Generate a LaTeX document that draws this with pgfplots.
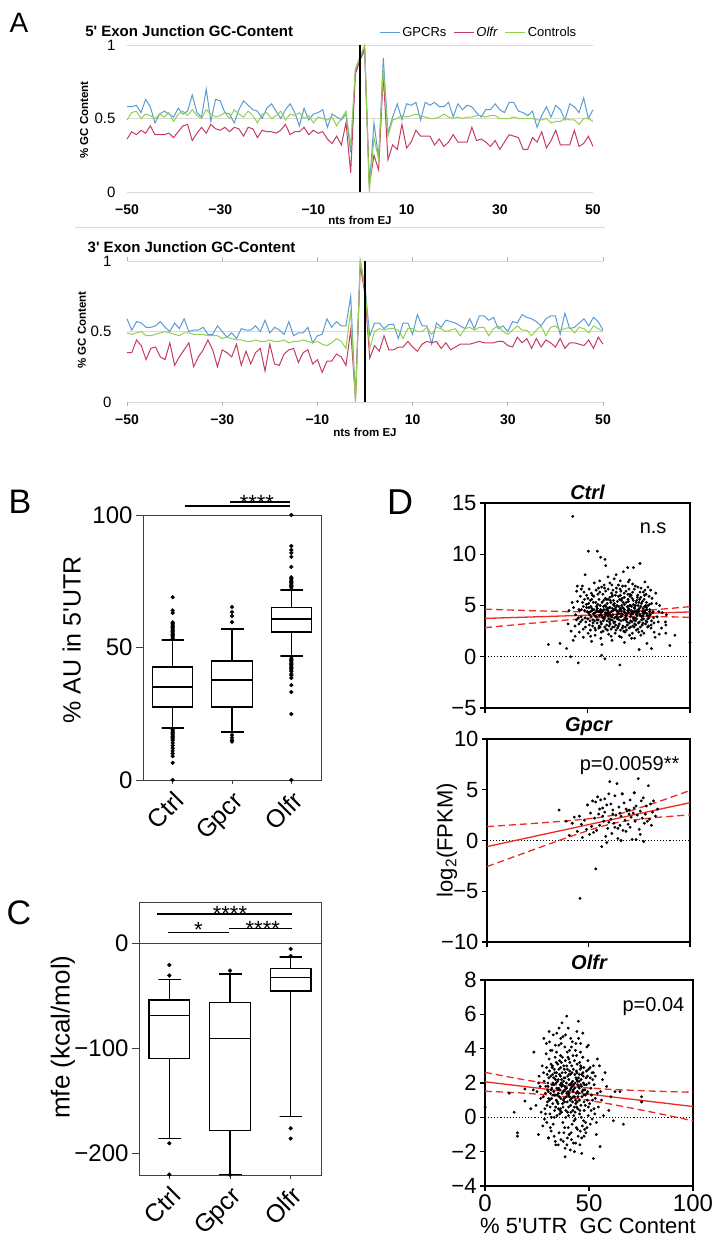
\documentclass[border=0pt]{standalone}
\usepackage{fontspec}
\setmainfont{Liberation Sans}
\usepackage{pgfplots}
\pgfplotsset{compat=1.18}
\usepackage{pgfplotstable}
\newcommand{\fs}[1]{\fontsize{#1bp}{#1bp}\selectfont}
\definecolor{gblue}{HTML}{5B9BD5}
\definecolor{ored}{HTML}{C33E5E}
\definecolor{cgreen}{HTML}{92D050}
\definecolor{dred}{HTML}{EE2A24}

\pgfplotstableread{
x b g r
-50 0.58 0.49 0.36
-49 0.58 0.54 0.41
-48 0.59 0.55 0.39
-47 0.54 0.50 0.42
-46 0.63 0.53 0.40
-45 0.58 0.52 0.45
-44 0.47 0.50 0.39
-43 0.53 0.53 0.39
-42 0.55 0.51 0.39
-41 0.53 0.54 0.40
-40 0.51 0.48 0.37
-39 0.57 0.53 0.41
-38 0.53 0.55 0.45
-37 0.55 0.52 0.46
-36 0.66 0.56 0.35
-35 0.54 0.52 0.40
-34 0.51 0.50 0.44
-33 0.70 0.56 0.40
-32 0.48 0.53 0.46
-31 0.63 0.51 0.43
-30 0.62 0.52 0.42
-29 0.54 0.54 0.44
-28 0.53 0.50 0.41
-27 0.47 0.56 0.44
-26 0.56 0.53 0.43
-25 0.62 0.51 0.38
-24 0.59 0.55 0.44
-23 0.56 0.52 0.43
-22 0.55 0.47 0.37
-21 0.50 0.53 0.42
-20 0.57 0.54 0.41
-19 0.60 0.50 0.41
-18 0.55 0.52 0.40
-17 0.50 0.55 0.42
-16 0.56 0.49 0.46
-15 0.60 0.53 0.39
-14 0.54 0.52 0.41
-13 0.45 0.54 0.41
-12 0.57 0.50 0.44
-11 0.49 0.52 0.39
-10 0.53 0.47 0.42
-9 0.54 0.51 0.40
-8 0.56 0.50 0.41
-7 0.44 0.49 0.36
-6 0.53 0.51 0.33
-5 0.51 0.45 0.38
-4 0.49 0.50 0.32
-3 0.53 0.55 0.47
-2 0.27 0.31 0.13
-1 0.82 0.84 0.80
0 0.90 0.92 0.90
1 0.96 1.00 0.98
2 0.03 0.00 0.05
3 0.47 0.37 0.25
4 0.23 0.22 0.15
5 0.91 0.85 0.80
6 0.40 0.38 0.22
7 0.51 0.49 0.32
8 0.60 0.50 0.29
9 0.49 0.52 0.46
10 0.60 0.51 0.30
11 0.59 0.52 0.34
12 0.61 0.53 0.42
13 0.49 0.52 0.38
14 0.61 0.51 0.38
15 0.59 0.50 0.38
16 0.61 0.50 0.32
17 0.58 0.51 0.36
18 0.58 0.53 0.31
19 0.61 0.51 0.34
20 0.51 0.50 0.39
21 0.60 0.51 0.34
22 0.56 0.50 0.34
23 0.59 0.51 0.34
24 0.58 0.51 0.44
25 0.54 0.52 0.35
26 0.51 0.52 0.36
27 0.56 0.51 0.34
28 0.56 0.52 0.31
29 0.60 0.52 0.35
30 0.56 0.50 0.29
31 0.54 0.50 0.34
32 0.61 0.50 0.39
33 0.61 0.51 0.38
34 0.55 0.50 0.37
35 0.54 0.50 0.29
36 0.52 0.50 0.29
37 0.55 0.50 0.37
38 0.44 0.49 0.34
39 0.52 0.49 0.41
40 0.58 0.50 0.30
41 0.51 0.47 0.35
42 0.59 0.48 0.42
43 0.56 0.48 0.32
44 0.49 0.50 0.32
45 0.60 0.49 0.32
46 0.58 0.49 0.42
47 0.54 0.46 0.31
48 0.64 0.50 0.33
49 0.50 0.50 0.38
50 0.56 0.48 0.31
}\Afive

\pgfplotstableread{
x b g r
-50 0.59 0.49 0.35
-49 0.51 0.48 0.35
-48 0.57 0.49 0.44
-47 0.56 0.50 0.40
-46 0.53 0.47 0.30
-45 0.53 0.47 0.38
-44 0.54 0.48 0.39
-43 0.57 0.49 0.32
-42 0.53 0.50 0.30
-41 0.50 0.49 0.42
-40 0.56 0.48 0.26
-39 0.52 0.47 0.32
-38 0.59 0.49 0.37
-37 0.50 0.49 0.42
-36 0.51 0.48 0.25
-35 0.51 0.48 0.32
-34 0.53 0.48 0.37
-33 0.48 0.47 0.44
-32 0.48 0.47 0.37
-31 0.54 0.47 0.25
-30 0.50 0.45 0.37
-29 0.46 0.46 0.35
-28 0.49 0.45 0.32
-27 0.45 0.44 0.41
-26 0.52 0.44 0.26
-25 0.51 0.43 0.36
-24 0.51 0.43 0.27
-23 0.54 0.44 0.35
-22 0.50 0.43 0.38
-21 0.58 0.43 0.22
-20 0.49 0.44 0.41
-19 0.53 0.43 0.27
-18 0.51 0.43 0.26
-17 0.48 0.44 0.34
-16 0.57 0.42 0.37
-15 0.47 0.43 0.38
-14 0.49 0.43 0.28
-13 0.49 0.44 0.35
-12 0.53 0.43 0.37
-11 0.42 0.42 0.27
-10 0.47 0.43 0.30
-9 0.48 0.41 0.21
-8 0.59 0.40 0.29
-7 0.53 0.42 0.29
-6 0.57 0.45 0.34
-5 0.54 0.43 0.32
-4 0.54 0.38 0.26
-3 0.75 0.65 0.51
-2 0.02 0.00 0.02
-1 1.00 1.00 0.97
0 0.82 0.80 0.76
1 0.47 0.38 0.31
2 0.56 0.50 0.40
3 0.56 0.52 0.36
4 0.52 0.51 0.47
5 0.55 0.52 0.37
6 0.55 0.52 0.37
7 0.45 0.51 0.39
8 0.56 0.45 0.39
9 0.56 0.52 0.43
10 0.48 0.52 0.39
11 0.62 0.50 0.36
12 0.54 0.50 0.41
13 0.54 0.53 0.43
14 0.41 0.48 0.42
15 0.56 0.53 0.43
16 0.53 0.52 0.38
17 0.58 0.50 0.42
18 0.57 0.51 0.37
19 0.56 0.52 0.39
20 0.54 0.47 0.41
21 0.52 0.52 0.41
22 0.59 0.53 0.41
23 0.52 0.51 0.42
24 0.61 0.53 0.43
25 0.61 0.53 0.42
26 0.58 0.47 0.42
27 0.60 0.52 0.42
28 0.52 0.54 0.43
29 0.54 0.50 0.43
30 0.50 0.48 0.40
31 0.57 0.51 0.39
32 0.56 0.54 0.46
33 0.62 0.51 0.42
34 0.60 0.51 0.45
35 0.59 0.47 0.38
36 0.57 0.51 0.45
37 0.54 0.54 0.39
38 0.59 0.47 0.44
39 0.61 0.53 0.42
40 0.61 0.54 0.39
41 0.48 0.51 0.45
42 0.63 0.52 0.38
43 0.52 0.53 0.42
44 0.53 0.49 0.42
45 0.56 0.53 0.41
46 0.59 0.52 0.40
47 0.54 0.49 0.44
48 0.60 0.54 0.38
49 0.57 0.52 0.46
50 0.51 0.50 0.41
}\Athree

\pgfplotstableread{
x y
44.2 4.1
45.8 3.2
46.5 5.9
47.1 4.6
47.9 2.7
48.3 6.3
48.8 3.8
49.4 5.1
49.9 4.4
50.3 2.3
50.8 6.6
51.2 3.5
51.6 4.9
52.1 5.6
52.5 3.0
52.9 4.2
53.3 7.2
53.7 2.1
54.0 5.3
54.4 3.9
54.8 4.7
55.1 6.1
55.5 2.8
55.8 4.0
56.2 5.0
56.5 3.4
56.9 6.8
57.2 4.5
57.6 2.5
57.9 5.5
58.2 3.7
58.6 4.3
58.9 6.4
59.3 3.1
59.6 5.2
59.9 4.0
60.3 2.2
60.6 4.8
60.9 5.8
61.3 3.6
61.6 4.4
61.9 7.0
62.3 2.9
62.6 5.1
62.9 3.3
63.3 4.6
63.6 6.0
63.9 2.6
64.3 4.1
64.6 5.4
64.9 3.8
65.3 4.9
65.6 2.0
65.9 6.6
66.3 3.5
66.6 4.2
66.9 5.7
67.3 3.0
67.6 4.7
67.9 6.2
68.3 2.4
68.6 4.0
68.9 5.3
69.3 3.4
69.6 4.5
69.9 7.3
70.3 2.8
70.6 5.0
70.9 3.9
71.3 6.0
71.6 4.3
71.9 2.3
72.3 5.5
72.6 3.6
72.9 4.8
73.3 6.9
73.6 3.1
73.9 4.1
74.3 5.8
74.6 2.7
74.9 4.6
75.3 3.4
75.6 6.3
75.9 4.0
76.3 5.2
76.6 2.5
76.9 4.4
77.3 3.7
77.6 5.6
77.9 4.9
78.3 3.2
78.6 6.1
78.9 4.2
79.3 2.9
79.6 5.0
80.0 3.8
80.4 4.6
80.8 6.5
81.2 3.5
81.7 4.3
45.1 5.4
46.0 2.4
46.9 3.9
47.5 6.9
48.0 4.9
49.0 2.9
49.6 6.0
50.1 3.7
50.6 5.2
51.0 4.1
51.4 2.6
51.9 6.2
52.3 4.5
52.7 3.3
53.1 5.9
53.5 4.0
53.9 2.6
54.2 6.5
54.6 3.6
55.0 5.1
55.3 4.4
55.7 3.0
56.0 6.3
56.4 4.6
56.7 2.4
57.1 5.3
57.4 3.8
57.8 4.9
58.1 7.0
58.4 2.9
58.8 4.1
59.1 5.6
59.5 3.5
59.8 4.7
60.1 6.6
60.5 3.0
60.8 4.2
61.1 5.5
61.5 2.7
61.8 3.9
62.1 6.0
62.5 4.5
62.8 3.4
63.1 5.2
63.5 2.3
63.8 4.8
64.1 6.7
64.5 3.7
64.8 4.3
65.1 5.9
65.5 3.2
65.8 4.6
66.1 2.6
66.5 5.5
66.8 4.0
67.1 6.9
67.5 3.6
67.8 4.4
68.1 5.1
68.5 2.9
68.8 6.4
69.1 4.2
69.5 3.1
69.8 5.6
70.1 4.7
70.5 2.1
70.8 6.1
71.1 3.5
71.5 4.9
71.8 5.7
72.1 3.0
72.5 4.4
72.8 6.6
73.1 3.8
73.5 5.0
73.8 2.6
74.1 4.5
74.5 6.0
74.8 3.3
75.1 5.3
75.5 4.1
75.8 2.9
76.1 6.7
76.5 3.9
76.8 5.4
77.1 4.7
77.5 2.3
77.8 6.0
78.1 4.5
78.5 3.5
78.8 5.3
79.1 4.0
79.5 6.8
79.8 3.0
80.2 5.1
80.6 4.1
81.0 2.8
81.5 5.7
82.0 4.4
82.4 3.3
56.3 4.1
57.3 4.4
58.3 3.9
59.2 4.6
60.2 4.3
61.2 4.0
62.2 4.7
63.2 3.8
64.2 4.5
65.2 4.2
66.2 3.9
67.2 4.8
68.2 4.3
69.2 3.7
70.2 4.6
71.2 4.1
72.2 3.8
73.2 4.4
74.2 4.0
75.2 4.7
60.7 3.4
62.7 5.5
64.7 2.8
66.7 5.0
68.7 3.6
70.7 5.9
72.7 2.9
74.7 5.0
58.7 5.7
56.8 3.2
59.7 2.6
61.7 6.2
63.7 3.1
65.7 5.6
67.7 2.5
69.7 6.1
71.7 3.4
73.7 5.3
76.7 3.1
78.7 4.8
55.2 3.6
54.5 4.5
53.4 3.5
52.2 4.7
51.3 5.5
50.4 4.3
49.2 3.4
48.5 5.6
47.4 3.6
46.2 4.5
45.5 3.8
44.7 6.4
43.9 3.0
43.2 4.8
42.5 5.3
84.0 3.9
85.2 5.0
86.1 2.8
83.3 6.2
84.8 4.4
42.8 13.7
50.4 10.3
54.8 10.3
56.4 9.7
58.5 9.5
58.9 8.9
69.6 8.7
72.4 8.7
75.6 9.1
48.8 8.0
30.9 1.2
36.6 1.3
39.8 0.8
35.4 -0.5
45.5 -0.6
41.8 0.0
56.9 0.15
58.5 -0.2
65.8 -0.8
75.2 0.7
81.2 0.8
90.2 1.1
100 1.4
92.6 2.1
88.2 2.3
88.2 3.1
88.5 4.1
88.0 3.4
63.0 7.6
66.0 7.4
60.0 7.8
70.5 7.5
78.0 7.3
45.0 6.9
47.0 6.6
44.0 2.0
43.0 1.6
42.0 2.5
40.5 3.2
41.0 4.5
52.0 1.5
57.0 1.2
62.0 1.6
68.0 1.4
73.0 1.8
79.0 1.3
83.0 1.9
85.0 2.2
64.0 8.0
67.5 8.3
50.7 4.8
51.8 3.9
52.8 5.3
53.8 4.3
54.7 3.3
55.6 5.6
56.6 4.3
57.7 3.5
58.6 5.0
59.4 4.2
60.4 3.7
61.4 5.3
62.4 4.1
63.4 3.4
64.4 5.0
65.4 3.6
66.4 4.5
67.4 5.3
68.4 3.8
69.4 4.9
70.4 3.3
71.4 4.5
72.4 5.1
73.4 3.5
74.4 4.3
75.4 5.6
76.4 3.6
77.4 4.2
78.4 5.0
79.4 3.7
80.3 4.4
81.3 5.2
82.2 3.8
50.9 3.1
52.4 6.0
53.6 2.8
55.4 6.7
56.1 2.9
57.5 6.1
59.0 2.7
60.0 5.6
61.0 3.2
62.0 5.9
63.0 2.9
64.0 6.3
65.0 3.0
66.0 6.0
67.0 2.8
68.0 5.8
69.0 2.6
70.0 5.4
71.0 2.9
72.0 6.3
73.0 3.2
74.0 5.5
75.0 2.4
76.0 5.8
77.0 3.3
78.0 6.5
79.0 3.4
80.0 5.9
81.0 3.1
54.3 4.9
55.9 4.4
57.0 4.0
58.0 4.6
59.0 4.9
60.0 4.5
61.0 4.8
62.0 3.6
63.0 5.0
64.0 3.9
65.0 4.4
66.0 4.7
67.0 4.1
68.0 4.6
69.0 4.0
70.0 4.3
71.0 5.0
72.0 4.2
73.0 4.7
74.0 3.7
75.0 4.4
76.0 4.9
77.0 4.0
78.0 4.3
79.0 4.6
80.0 4.0
48.6 4.5
47.6 5.3
46.6 3.4
49.6 4.8
50.2 5.7
51.5 4.4
52.6 3.6
53.2 4.6
58.3 6.7
62.4 6.5
66.3 6.4
70.2 6.6
74.6 6.8
77.2 6.3
60.9 7.2
65.1 7.0
56.0 7.4
72.0 7.1
68.5 6.9
76.0 2.1
71.5 1.8
66.5 1.9
61.5 2.0
56.5 1.8
51.5 2.0
48.0 1.9
82.5 2.4
84.5 3.4
86.5 4.3
83.6 5.2
45.8 4.6
44.6 3.6
}\DCtrl

\pgfplotstableread{
x y
35.5 3.0
39.0 1.9
40.5 0.5
42.0 1.7
43.0 2.3
44.5 0.9
45.5 2.4
46.5 1.6
47.0 0.3
48.0 2.0
49.0 1.1
49.5 3.5
50.5 0.6
51.0 2.7
51.5 1.4
52.0 3.9
52.5 0.8
53.0 2.2
53.5 3.8
54.0 1.0
54.5 4.3
55.0 2.6
55.5 1.5
56.0 4.0
56.5 -0.6
57.0 3.2
57.5 1.9
58.0 2.8
58.5 0.4
59.0 3.5
59.5 1.2
60.0 4.6
60.5 5.8
61.0 2.1
61.5 0.7
62.0 3.0
62.5 1.7
63.0 4.4
63.5 2.5
64.0 5.6
64.5 0.2
65.0 3.3
65.5 1.5
66.0 2.4
66.5 4.6
67.0 1.0
67.5 3.7
68.0 2.0
68.5 0.9
69.0 2.9
69.5 1.6
70.0 3.0
70.5 4.0
71.0 2.3
71.5 0.1
72.0 2.7
72.5 4.7
73.0 1.9
73.5 3.4
74.0 2.5
74.5 6.1
75.0 1.1
75.5 2.9
76.0 3.9
76.5 2.2
77.0 4.2
77.5 1.7
78.0 2.6
78.5 3.4
79.0 1.9
79.5 5.4
80.0 2.1
80.5 3.6
81.0 1.5
81.5 2.8
82.0 3.9
83.0 2.4
84.0 3.1
77.2 -0.1
73.5 0.1
66.0 0.0
59.0 -0.2
45.8 -5.7
53.6 -2.8
64.5 1.2
62.0 2.6
68.5 3.1
70.5 1.3
72.5 3.2
75.5 0.6
57.0 2.4
55.5 3.1
60.0 1.8
63.0 1.3
66.7 4.6
72.6 4.7
58.0 4.1
61.0 3.6
65.5 2.7
70.0 2.6
}\DGpcr

\pgfplotstableread{
x y
28.0 1.2
28.4 2.1
28.8 0.5
29.2 1.8
29.6 2.9
30.0 0.9
30.4 1.5
30.8 3.4
31.2 0.2
31.6 2.4
32.0 1.1
32.4 3.0
32.8 -0.4
33.2 1.9
33.6 2.6
34.0 0.6
34.4 3.8
34.8 1.3
35.2 2.2
35.6 -0.9
36.0 1.6
36.4 2.9
36.8 0.3
37.2 3.5
37.6 1.0
38.0 2.3
38.4 4.1
38.8 0.0
39.2 1.7
39.6 2.8
40.0 -0.6
40.4 1.4
40.8 3.2
41.2 0.7
41.6 2.0
42.0 4.4
42.4 1.2
42.8 -0.2
43.2 2.5
43.6 0.8
44.0 3.6
44.4 1.5
44.8 -1.1
45.2 2.1
45.6 0.4
46.0 3.0
46.4 1.8
46.8 -0.5
47.2 2.4
47.6 0.9
48.0 1.6
48.4 -0.3
48.8 2.7
49.2 1.0
49.6 0.1
50.0 2.0
50.6 -0.4
51.2 1.3
51.8 2.2
52.4 0.5
28.2 2.6
28.6 -0.1
29.0 1.4
29.4 3.7
29.8 0.7
30.2 2.0
30.6 1.1
31.0 2.7
31.4 -0.6
31.8 1.6
32.2 3.9
32.6 0.8
33.0 2.3
33.4 1.3
33.8 -1.4
34.2 2.0
34.6 0.1
35.0 3.1
35.4 1.7
35.8 2.5
36.2 0.5
36.6 4.3
37.0 1.4
37.4 -0.3
37.8 2.1
38.2 0.9
38.6 3.3
39.0 1.2
39.4 -1.6
39.8 2.4
40.2 0.6
40.6 3.9
41.0 1.6
41.4 -0.9
41.8 2.6
42.2 0.4
42.6 1.9
43.0 3.3
43.4 -0.1
43.8 1.4
44.2 2.6
44.6 0.5
45.0 4.6
45.4 1.0
45.8 -0.8
46.2 2.2
46.6 1.2
47.0 3.5
47.4 -0.2
47.8 1.9
48.2 0.7
48.6 2.3
49.0 -0.6
49.4 1.5
49.8 2.8
50.3 0.8
50.9 1.7
51.5 -0.1
52.1 2.6
53.0 1.1
33.1 1.5
34.1 2.4
35.1 0.8
36.1 1.9
37.1 2.6
38.1 1.1
39.1 2.0
40.1 1.3
41.1 2.5
42.1 0.9
43.1 1.7
44.1 2.2
45.1 1.4
46.1 0.7
47.1 1.6
33.5 0.4
34.5 1.7
35.5 2.8
36.5 1.1
37.5 0.6
38.5 2.3
39.5 0.9
40.5 1.9
41.5 1.1
42.5 2.8
43.5 1.0
44.5 1.9
45.5 0.2
46.5 2.5
47.5 1.3
32.3 1.9
33.3 2.8
34.3 1.0
35.3 1.4
36.3 2.4
37.3 0.8
38.3 1.6
39.3 3.0
40.3 2.2
41.3 0.3
42.3 1.5
43.3 2.0
44.3 0.9
45.3 1.7
46.3 2.9
31.5 1.4
32.5 2.5
36.9 1.8
40.9 1.0
44.9 2.3
37.9 3.0
38.9 0.4
39.9 1.5
40.7 2.7
41.9 1.8
42.9 0.6
43.9 2.7
34.9 2.1
35.9 0.2
36.7 3.2
26.5 1.8
27.0 0.3
27.5 3.0
26.0 2.4
25.0 1.5
24.5 0.7
27.8 -0.5
29.5 4.3
30.5 -1.2
31.5 3.9
32.8 4.8
34.0 -1.6
35.5 4.2
36.5 -1.3
37.5 4.7
38.5 -1.8
39.5 3.8
40.5 -1.0
41.5 4.1
42.5 -1.5
43.5 3.9
44.5 -0.7
45.5 3.2
46.5 -1.2
47.5 2.9
48.5 -0.9
49.5 3.3
50.5 2.9
51.5 2.6
52.5 1.9
53.5 -0.3
54.0 1.4
54.5 0.6
55.5 1.5
56.0 1.0
53.0 2.4
51.0 0.4
49.0 4.1
47.0 4.9
46.0 4.3
39.3 5.9
44.9 5.6
35.6 5.2
30.8 5.0
28.3 4.6
23.5 3.8
49.7 4.2
52.1 3.0
57.7 2.6
58.5 1.8
64.9 1.5
75.3 1.2
75.3 0.9
66.5 -0.4
61.7 -0.2
52.1 -2.4
55.3 -1.7
38.5 -2.3
46.5 -2.1
30.5 -1.2
25.7 -1.0
15.6 -0.9
15.6 -1.1
14.0 0.3
11.6 1.4
0.1 0.6
19.2 0.95
19.2 1.65
23.2 1.6
22.0 0.5
56.5 2.2
57.0 0.1
59.5 0.4
60.5 1.2
62.5 1.5
55.0 3.0
54.0 3.4
53.5 -1.0
43.0 -2.0
41.0 -1.9
30.3 1.8
31.3 0.6
32.3 2.9
33.3 0.0
34.3 3.2
35.3 0.5
36.3 3.6
37.3 1.9
38.3 -0.6
39.3 1.4
40.3 3.4
41.3 1.7
42.3 3.6
43.3 0.3
44.3 3.1
45.3 2.5
46.3 0.0
47.3 2.0
48.3 1.3
49.3 2.4
30.7 2.3
31.7 3.1
32.7 1.3
33.7 3.5
34.7 0.9
35.7 1.2
36.7 2.0
37.7 1.5
38.7 2.6
39.7 0.3
40.7 1.2
41.7 3.0
42.7 0.1
43.7 2.3
44.7 1.2
45.7 2.8
46.7 1.5
47.7 0.4
48.7 1.9
49.7 0.6
29.1 0.2
29.9 2.5
31.9 0.0
33.9 2.2
35.9 3.3
37.9 -0.9
39.9 3.5
41.9 -0.4
43.9 -0.6
45.9 3.8
47.9 -0.7
31.1 1.0
32.1 1.7
34.1 1.3
36.1 0.4
38.1 2.8
40.1 0.1
42.1 2.1
44.1 0.6
46.1 1.9
33.8 4.2
36.4 4.6
38.7 4.8
41.2 4.6
43.7 4.3
44.2 5.0
40.0 5.2
37.0 5.5
34.5 4.9
31.0 4.4
35.2 -1.6
37.6 -1.4
39.6 -1.2
41.6 -1.3
43.6 -1.5
45.6 -1.6
47.6 -1.1
33.2 -1.1
31.8 -0.8
29.7 -0.3
36.8 2.2
38.4 1.8
40.4 2.5
42.4 1.6
44.4 2.1
34.4 2.6
32.6 2.0
30.1 1.6
35.1 1.6
39.1 1.7
41.1 1.9
43.1 1.2
45.1 1.8
47.1 2.6
49.1 1.4
50.6 2.3
51.7 1.0
52.8 0.2
26.8 1.1
25.8 2.0
}\DOlfr

\pgfplotsset{
  every axis title shift=0pt,
  Astyle/.style={scale only axis, anchor=south west, xmin=-50, xmax=50, ymin=0, ymax=1,
    axis line style={draw=none}, ymajorgrids, grid style={black!15, line width=0.8bp},
    xtick={-50,-30,-10,10,30,50}, xticklabels={−50,−30,−10,10,30,50},
    ytick={0,0.5,1}, yticklabels={0,0.5,1},
    xticklabel style={font=\bfseries\fs{14}}, yticklabel style={font=\fs{15}, xshift=-8bp},
    ylabel={\% GC Content}, ylabel style={font=\bfseries\fs{11.5}, anchor=center},
    xlabel={nts from EJ}, xlabel style={font=\bfseries\fs{11.5}, anchor=center},
    title style={font=\bfseries\fs{15}, anchor=west, yshift=0bp},
    ytick style={draw=none}, clip=false},
  Bstyle/.style={scale only axis, anchor=south west, xmin=-0.5, xmax=2.5, xtick={0,1,2},
    xticklabels={Ctrl,Gpcr,Olfr},
    xticklabel style={rotate=45, anchor=north east, font=\fs{25}, inner sep=2bp},
    yticklabel style={font=\fs{24}},
    axis line style={black!75, line width=0.9bp}, tick style={black!75, line width=0.9bp},
    tick align=outside, tick pos=left, major tick length=7bp,
    xtick style={/pgfplots/major tick length=4bp}, clip=false},
  Dstyle/.style={scale only axis, anchor=south west, xmin=0, xmax=100, xtick={0,50,100},
    axis line style={black, line width=1.2bp}, tick style={black, line width=1.2bp},
    tick align=outside, tick pos=left, major tick length=5bp,
    yticklabel style={font=\fs{22}}, xticklabel style={font=\fs{24}},
    title style={font=\bfseries\itshape\fs{20}}},
  bx/.style={black, line width=1.3bp, solid, line cap=rect, line join=miter},
  outl/.style={only marks, mark=*, mark size=1.9bp, black},
  sig/.style={black, line width=1.2bp},
  dot/.style={only marks, mark=*, mark size=1.25bp, black},
  fitl/.style={dred, line width=1.3bp},
  ci/.style={dred, line width=1.3bp, dash pattern=on 7bp off 4bp},
}

\begin{document}
\begin{tikzpicture}
\path[use as bounding box] (0bp,0bp) rectangle (713bp,-1240bp);

% ---------- Panel A, top
\begin{axis}[Astyle, at={(127bp,-192bp)}, width=466bp, height=147bp,
  title={5\textquotesingle\ Exon Junction GC-Content},
  title style={at={(axis description cs:-0.097,1.095)}},
  ylabel style={at={(axis description cs:-0.092,0.49)}},
  xlabel style={at={(axis description cs:0.5,-0.19)}},
  xticklabel style={yshift=-9bp}, major tick length=0bp,
  legend style={at={(0.975,1.082)}, anchor=east, draw=none, fill=none, legend columns=3,
    font=\fs{13}, /tikz/every even column/.append style={column sep=5bp}},
  legend image code/.code={\draw[#1] (0bp,0bp) -- (20bp,0bp);}]
\addplot[gblue, line width=1bp] table[x=x,y=b] {\Afive}; \addlegendentry{GPCRs}
\addplot[ored, line width=1bp] table[x=x,y=r] {\Afive}; \addlegendentry{\textit{Olfr}}
\addplot[cgreen, line width=1bp] table[x=x,y=g] {\Afive}; \addlegendentry{Controls}
\addplot[black, line width=2bp] coordinates {(0,0) (0,1)};
\end{axis}

\draw[black!15, line width=0.8bp] (75bp,-227bp) -- (605bp,-227bp);

% ---------- Panel A, bottom
\begin{axis}[Astyle, at={(127bp,-402bp)}, width=476bp, height=141bp,
  title={3\textquotesingle\ Exon Junction GC-Content},
  title style={at={(axis description cs:-0.09,1.1)}},
  ylabel style={at={(axis description cs:-0.0945,0.51)}},
  xlabel style={at={(axis description cs:0.5,-0.213)}},
  xtick style={draw=black!30, line width=0.8bp}, major tick length=4bp, tick align=outside,
  xticklabel style={yshift=-5bp}]
\addplot[gblue, line width=1bp] table[x=x,y=b] {\Athree};
\addplot[ored, line width=1bp] table[x=x,y=r] {\Athree};
\addplot[cgreen, line width=1bp] table[x=x,y=g] {\Athree};
\addplot[black, line width=2bp] coordinates {(0,0) (0,1)};
\end{axis}

% ---------- Panel B
\begin{axis}[Bstyle, at={(143bp,-780bp)}, width=178bp, height=265bp,
  ymin=0, ymax=100, ytick={0,50,100}, yticklabels={0,50,100},
  ylabel={\% AU in 5\textquotesingle UTR},
  ylabel style={at={(axis description cs:-0.40,0.528)}, anchor=center, font=\fs{25}}]
% Ctrl: lw 19.6, q1 27.5, med 35.1, q3 42.6, uw 52.8
\addplot[bx] coordinates {(-0.34,27.5) (0.34,27.5) (0.34,42.6) (-0.34,42.6) (-0.34,27.5)};
\addplot[bx] coordinates {(-0.34,35.1) (0.34,35.1)};
\addplot[bx] coordinates {(0,42.6) (0,52.8) (-0.185,52.8) (0.185,52.8)};
\addplot[bx] coordinates {(0,27.5) (0,19.6) (-0.185,19.6) (0.185,19.6)};
% Gpcr: lw 18.1, q1 27.5, med 37.7, q3 44.9, uw 57.0
\addplot[bx] coordinates {(0.66,27.5) (1.34,27.5) (1.34,44.9) (0.66,44.9) (0.66,27.5)};
\addplot[bx] coordinates {(0.66,37.7) (1.34,37.7)};
\addplot[bx] coordinates {(1,44.9) (1,57.0) (0.815,57.0) (1.185,57.0)};
\addplot[bx] coordinates {(1,27.5) (1,18.1) (0.815,18.1) (1.185,18.1)};
% Olfr: lw 46.8, q1 55.8, med 60.8, q3 65.0, uw 71.7
\addplot[bx] coordinates {(1.66,55.8) (2.34,55.8) (2.34,65.0) (1.66,65.0) (1.66,55.8)};
\addplot[bx] coordinates {(1.66,60.8) (2.34,60.8)};
\addplot[bx] coordinates {(2,65.0) (2,71.7) (1.815,71.7) (2.185,71.7)};
\addplot[bx] coordinates {(2,55.8) (2,46.8) (1.815,46.8) (2.185,46.8)};
\addplot[outl] coordinates {(0,53.5) (0,54) (0,54.5) (0,55) (0,55.5) (0,56) (0,56.5) (0,57)
  (0,57.5) (0,58) (0,58.5) (0,59) (0,59.5) (0,63) (0,64) (0,69)
  (0,19) (0,18.5) (0,18) (0,17.5) (0,17) (0,16.5) (0,16) (0,15.5) (0,15) (0,14) (0,13)
  (0,12) (0,11) (0,10) (0,9) (0,6.5) (0,0)};
\addplot[outl] coordinates {(1,59.6) (1,61.9) (1,63.4) (1,65.3) (1,17) (1,16) (1,15) (1,14.5)};
\addplot[outl] coordinates {(2,72.5) (2,73) (2,73.5) (2,74) (2,74.5) (2,75) (2,75.5) (2,76)
  (2,76.5) (2,80.4) (2,84.2) (2,85.7) (2,86.8) (2,88.3) (2,100)
  (2,46) (2,45.5) (2,45) (2,44.5) (2,44) (2,43.5) (2,43) (2,42.5) (2,42) (2,41.5) (2,41)
  (2,40) (2,39.5) (2,38.5) (2,35.8) (2,33.2) (2,24.9) (2,0)};
\addplot[sig] coordinates {(0.2,103.4) (1.97,103.4)};
\addplot[sig] coordinates {(0.97,104.9) (1.97,104.9)};
\node[font=\fs{22}, anchor=base] at (axis cs:1.42,101.6) {****};
\end{axis}

% ---------- Panel C
\begin{axis}[Bstyle, at={(139bp,-1175bp)}, width=182bp, height=273bp,
  ymin=-221, ymax=39, ytick={-200,-100,0}, yticklabels={−200,−100,0},
  ylabel={mfe (kcal/mol)},
  ylabel style={at={(axis description cs:-0.418,0.505)}, anchor=center, font=\fs{26}}]
\addplot[black!75, line width=0.9bp] coordinates {(-0.5,0) (2.5,0)};
% Ctrl: lw -186.3, q1 -110.2, med -69.2, q3 -54.3, uw -34.6
\addplot[bx] coordinates {(-0.335,-110.2) (0.335,-110.2) (0.335,-54.3) (-0.335,-54.3) (-0.335,-110.2)};
\addplot[bx] coordinates {(-0.335,-69.2) (0.335,-69.2)};
\addplot[bx] coordinates {(0,-54.3) (0,-34.6) (-0.18,-34.6) (0.18,-34.6)};
\addplot[bx] coordinates {(0,-110.2) (0,-186.3) (-0.18,-186.3) (0.18,-186.3)};
% Gpcr: lw -220.7, q1 -178.7, med -91.1, q3 -56.8, uw -29.5
\addplot[bx] coordinates {(0.665,-178.7) (1.335,-178.7) (1.335,-56.8) (0.665,-56.8) (0.665,-178.7)};
\addplot[bx] coordinates {(0.665,-91.1) (1.335,-91.1)};
\addplot[bx] coordinates {(1,-56.8) (1,-29.5) (0.82,-29.5) (1.18,-29.5)};
\addplot[bx] coordinates {(1,-178.7) (1,-220.7) (0.82,-220.7) (1.18,-220.7)};
% Olfr: lw -165.4, q1 -45.7, med -33.0, q3 -24.4, uw -13.3
\addplot[bx] coordinates {(1.665,-45.7) (2.335,-45.7) (2.335,-24.4) (1.665,-24.4) (1.665,-45.7)};
\addplot[bx] coordinates {(1.665,-33.0) (2.335,-33.0)};
\addplot[bx] coordinates {(2,-24.4) (2,-13.3) (1.82,-13.3) (2.18,-13.3)};
\addplot[bx] coordinates {(2,-45.7) (2,-165.4) (1.82,-165.4) (2.18,-165.4)};
\addplot[outl] coordinates {(0,-21) (0,-31) (0,-190.8) (0,-220.6)
  (1,-26.3) (1,-220.7) (2,-5.7) (2,-12.4) (2,-176.5) (2,-186.3)};
\addplot[sig] coordinates {(-0.21,27.6) (2.03,27.6)};
\addplot[sig] coordinates {(-0.02,9.8) (0.98,9.8)};
\addplot[sig] coordinates {(0.99,13.6) (2.03,13.6)};
\node[font=\fs{22}, anchor=base] at (axis cs:1.0,20.5) {****};
\node[font=\fs{22}, anchor=base] at (axis cs:0.48,4.8) {*};
\node[font=\fs{22}, anchor=base] at (axis cs:1.54,6.2) {****};
\end{axis}

% ---------- Panel D, Ctrl
\begin{axis}[Dstyle, at={(485bp,-708bp)}, width=205bp, height=205bp,
  ymin=-5, ymax=15, ytick={-5,0,5,10,15}, yticklabels={−5,0,5,10,15}, xticklabels={},
  title={Ctrl}, title style={yshift=0bp}]
\addplot[black, dotted, line width=1.1bp] coordinates {(0,0) (100,0)};
\addplot[dot] table[x=x,y=y] {\DCtrl};
\addplot[fitl] coordinates {(0,3.74) (100,4.37)};
\addplot[ci] coordinates {(0,4.64) (20,4.51) (40,4.40) (55,4.35) (65,4.37) (75,4.47) (90,4.71) (100,4.89)};
\addplot[ci] coordinates {(0,2.84) (20,3.22) (40,3.59) (55,3.83) (65,3.93) (75,3.95) (90,3.90) (100,3.85)};
\node[font=\fs{20}] at (axis cs:82,12.5) {n.s};
\end{axis}

% ---------- Panel D, Gpcr
\begin{axis}[Dstyle, at={(487bp,-942bp)}, width=203bp, height=203bp,
  ymin=-10, ymax=10, ytick={-10,-5,0,5,10}, yticklabels={−10,−5,0,5,10}, xticklabels={},
  title={Gpcr}, title style={yshift=0bp},
  ylabel={log\textsubscript{2}(FPKM)},
  ylabel style={at={(axis description cs:-0.197,0.502)}, anchor=center, font=\fs{22}}]
\addplot[black, dotted, line width=1.1bp] coordinates {(0,0) (100,0)};
\addplot[dot] table[x=x,y=y] {\DGpcr};
\addplot[fitl] coordinates {(0,-0.60) (100,3.73)};
\addplot[ci] coordinates {(0,1.37) (20,1.64) (40,1.94) (55,2.25) (63,2.52) (70,2.88) (85,3.86) (100,4.93)};
\addplot[ci] coordinates {(0,-2.57) (20,-1.11) (40,0.33) (55,1.32) (63,1.73) (70,1.98) (85,2.30) (100,2.53)};
\node[font=\fs{20}, anchor=east] at (axis cs:96.5,7.4) {p=0.0059**};
\end{axis}

% ---------- Panel D, Olfr
\begin{axis}[Dstyle, at={(485bp,-1186bp)}, width=208bp, height=206bp,
  ymin=-4, ymax=8, ytick={-4,-2,0,2,4,6,8}, yticklabels={−4,−2,0,2,4,6,8},
  xticklabels={0,50,100},
  title={Olfr}, title style={yshift=7bp},
  xlabel={\% 5\textquotesingle UTR\ \ GC Content},
  xlabel style={at={(axis description cs:0.495,-0.194)}, anchor=center, font=\fs{22}}]
\addplot[black, dotted, line width=1.1bp] coordinates {(0,0) (100,0)};
\addplot[dot] table[x=x,y=y] {\DOlfr};
\addplot[fitl] coordinates {(0,2.07) (100,0.63)};
\addplot[ci] coordinates {(0,2.62) (15,2.27) (30,1.96) (37,1.85) (45,1.75) (60,1.63) (80,1.53) (100,1.46)};
\addplot[ci] coordinates {(0,1.52) (15,1.44) (30,1.31) (37,1.22) (45,1.09) (60,0.78) (80,0.31) (100,-0.20)};
\node[font=\fs{20}, anchor=east] at (axis cs:97.5,6.48) {p=0.04};
\end{axis}

% panel letters
\node[font=\fs{28}] at (19bp,-23bp) {A};
\node[font=\fs{34}] at (20bp,-502bp) {B};
\node[font=\fs{34}] at (19bp,-913bp) {C};
\node[font=\fs{36}] at (400bp,-502bp) {D};
\end{tikzpicture}
\end{document}
